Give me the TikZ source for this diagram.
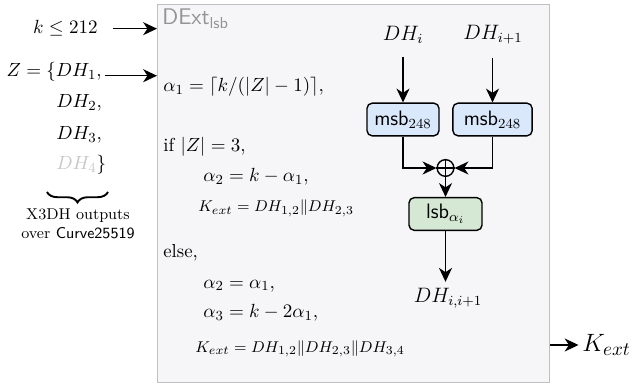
\documentclass[tikz,border=0pt]{standalone}
\usepackage{amssymb}
\usepackage{amsmath}
\usetikzlibrary{arrows.meta,positioning,decorations.pathreplacing}
\definecolor{boxbg}{RGB}{246,245,248}
\definecolor{boxline}{RGB}{192,192,192}
\definecolor{msbfill}{RGB}{218,232,252}
\definecolor{lsbfill}{RGB}{213,232,212}
\tikzset{
  flow/.style={-{Stealth[length=8pt,width=7.5pt,inset=2.5pt]},line width=0.8pt},
  fnbox/.style={draw,rounded corners=3pt,line width=0.8pt,minimum height=18.8pt,inner sep=0pt,font=\sffamily\large},
  line/.style={anchor=base west,inner sep=0pt,font=\fontsize{10.8}{13}\selectfont},
  keyline/.style={line,font=\fontsize{9.3}{11}\selectfont}
}
\begin{document}
\begin{tikzpicture}[x=0.575pt,y=-0.575pt]
\useasboundingbox (0,0) rectangle (633,384);
% the extractor box
\node[draw=boxline,fill=boxbg,line width=0.8pt,anchor=north west,minimum width=225.4pt,minimum height=217.4pt,inner sep=0pt] (dext) at (157,4) {};
\node[line,text=black!42,font=\sffamily\fontsize{13}{15}\selectfont] (title) at (162,25) {DExt$_{\textsf{lsb}}$};
% inputs
\node[line,anchor=base east] (kin) at (98,34) {$k \leq 212$};
\node[line,anchor=base east] (zin) at (102,77) {$Z = \{DH_1,$};
\node[line] (dh2) at (56,108) {$DH_2,$};
\node[line] (dh3) at (56,140) {$DH_3,$};
\node[line] (dh4) at (56,170) {$\textcolor{black!22}{DH_4}\}$};
\draw[flow] (kin.east)++(8.5pt,0) coordinate (kstart) -- (kstart -| dext.west);
\draw[flow] (zin.east)++(1.5pt,-2pt) coordinate (zstart) -- (zstart -| dext.west);
\coordinate (bl) at (47,192);
\coordinate (br) at (108,192);
\draw[line width=1.1pt,decorate,decoration={brace,amplitude=6pt}] (br) -- (bl);
\node[align=center,font=\small,inner sep=0pt] (note) at (78,224) {X3DH outputs\\over \textsf{Curve25519}};
% the equations
\node[line] (a1) at (163,92) {$\alpha_1 = \lceil k/(|Z|-1)\rceil,$};
\node[line] (if) at (163,152) {if $|Z| = 3,$};
\node[line] (a2) at (203,182) {$\alpha_2 = k-\alpha_1,$};
\node[keyline] (k1) at (198,212) {$K_{ext} = DH_{1,2}\|DH_{2,3}$};
\node[line] (else) at (163,258) {else,};
\node[line] (b2) at (203,288) {$\alpha_2 = \alpha_1,$};
\node[line] (b3) at (203,318) {$\alpha_3 = k-2\alpha_1,$};
\node[keyline] (k2) at (195,352) {$K_{ext} = DH_{1,2}\|DH_{2,3}\|DH_{3,4}$};
% the extraction of one pair
\node[font=\large] (dhi) at (403,35) {$DH_i$};
\node[font=\large] (dhj) at (493,35) {$DH_{i+1}$};
\node[fnbox,fill=msbfill,minimum width=41.4pt] (msbL) at (403,119.5) {msb$_{248}$};
\node[fnbox,fill=msbfill,minimum width=45.6pt] (msbR) at (492.5,119.5) {msb$_{248}$};
\node[draw,circle,line width=0.8pt,minimum size=9.6pt,inner sep=0pt] (xor) at (445.5,168) {};
\draw[line width=0.8pt] (xor.north) -- (xor.south) (xor.west) -- (xor.east);
\node[fnbox,fill=lsbfill,minimum width=42pt] (lsb) at (445.5,214) {lsb$_{\alpha_i}$};
\node[font=\large] (dhout) at (448,298) {$DH_{i,i+1}$};
\draw[flow,shorten <=4pt] (dhi) -- (msbL);
\draw[flow,shorten <=4pt] (dhj.south -| msbR) -- (msbR);
\draw[flow] (msbL.south) |- (xor.west);
\draw[flow] (msbR.south) |- (xor.east);
\draw[flow] (xor.south) -- (lsb.north);
\draw[flow] (lsb.south) -- (lsb.south |- dhout.north);
% output
\node[font=\fontsize{15.2}{18}\selectfont,anchor=west,inner sep=0pt] (kout) at (582,345) {$K_{ext}$};
\draw[flow] (kout.west -| dext.east) -- ([xshift=-2pt]kout.west);
\end{tikzpicture}
\end{document}
